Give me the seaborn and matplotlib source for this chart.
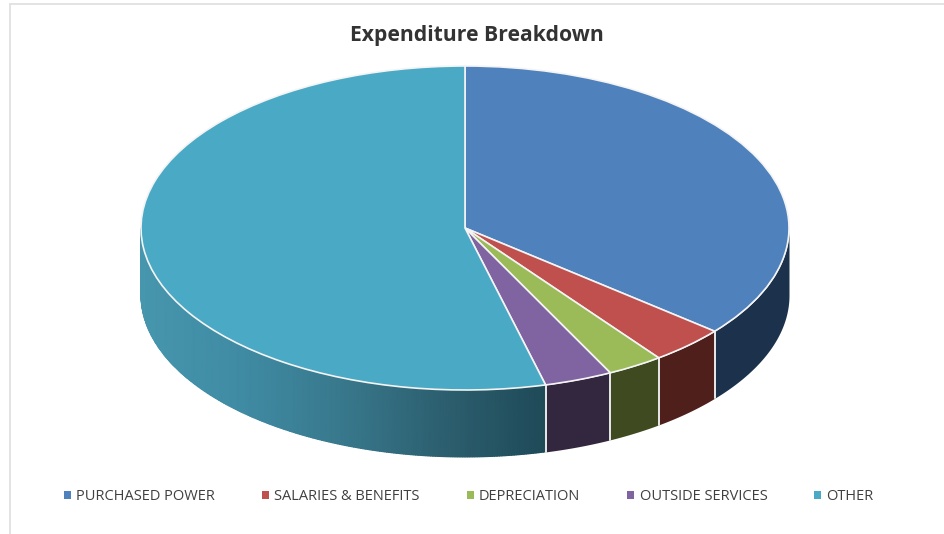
import numpy as np
import matplotlib
matplotlib.use("Agg")
import matplotlib.pyplot as plt
from matplotlib.colors import LinearSegmentedColormap
from matplotlib.lines import Line2D
import seaborn as sns

title = "Expenditure Breakdown"
categories = ["PURCHASED POWER", "SALARIES & BENEFITS", "DEPRECIATION", "OUTSIDE SERVICES", "OTHER"]
shares = [36.0, 3.8, 2.8, 3.4, 54.0]
top_colors = ["#4f81bd", "#c0504d", "#9bbb59", "#8064a2", "#4aa9c4"]
wall_colors = ["#1c324c", "#4f1f1c", "#3f4a20", "#33273f", None]
other_wall_ramp = ["#4696ae", "#3f8ba3", "#38788c", "#2c5f6f", "#1f4a58"]

sns.set_theme(style="white")
plt.rcParams["font.family"] = ["Open Sans", "DejaVu Sans"]

W, H = 944, 534
CX, CY, RX, RY, DEPTH = 465.0, 228.0, 324.0, 162.0, 67.0

fig = plt.figure(figsize=(W / 100, H / 100), dpi=100, facecolor="white")
ax = fig.add_axes([0, 0, 1, 1])

# Unit circle pie, squashed into an ellipse through the axes limits
wedges, _ = ax.pie(
    shares,
    colors=sns.color_palette(top_colors),
    startangle=90,
    counterclock=False,
    wedgeprops={"edgecolor": "#f4f4f4", "linewidth": 1.2, "zorder": 5},
)
ax.set_aspect("auto")
ax.set_xlim(-CX / RX, (W - CX) / RX)
ax.set_ylim(-(H - CY) / RY, CY / RY)
drop = DEPTH / RY

# Clockwise-from-north boundaries of each slice, in degrees
ends = np.cumsum(shares) / np.sum(shares) * 360.0
starts = np.concatenate([[0.0], ends[:-1]])
ramp = LinearSegmentedColormap.from_list("other_wall", other_wall_ramp)

for start, end, wall in zip(starts, ends, wall_colors):
    # Only the front half of the rim (90 to 270 degrees) is visible
    lo, hi = max(start, 90.0), min(end, 270.0)
    if hi <= lo:
        continue
    t = np.radians(np.linspace(lo, hi, 240))
    x, y = np.sin(t), np.cos(t)
    if wall is None:
        X = np.vstack([x, x])
        Y = np.vstack([y, y - drop])
        C = np.vstack([x, x])
        ax.pcolormesh(X, Y, C, cmap=ramp, shading="gouraud", zorder=2,
                      vmin=x.min(), vmax=x.max())
    else:
        ax.fill_between(x, y, y - drop, color=wall, linewidth=0, zorder=2)
    # Pale seam where two rim segments meet
    for edge in (lo, hi):
        if 90.0 < edge < 270.0:
            ex, ey = np.sin(np.radians(edge)), np.cos(np.radians(edge))
            ax.plot([ex, ex], [ey, ey - drop], color="#e9e9e9", lw=1.2, zorder=3)

fig.text(477 / W, 1 - 36 / H, title, ha="center", va="center",
         fontsize=15.2, fontweight="bold", color="#333333")

legend = ax.legend(
    wedges, categories,
    loc="center", bbox_to_anchor=(469 / W, 1 - 497 / H),
    ncols=5, frameon=False, fontsize=10.5, labelcolor="#404040",
    handlelength=0.45, handleheight=0.45, handletextpad=0.38, columnspacing=3.23,
)
for handle in legend.legend_handles:
    handle.set_edgecolor("none")

# Thin grey frame along the top and left edges
fig.add_artist(Line2D([9.5 / W, 9.5 / W], [0, 1 - 3.5 / H], color="#e0e0e0", lw=1.3))
fig.add_artist(Line2D([9.5 / W, 1], [1 - 3.5 / H, 1 - 3.5 / H], color="#e0e0e0", lw=1.3))

fig.savefig("out.png", dpi=100, facecolor="white")
